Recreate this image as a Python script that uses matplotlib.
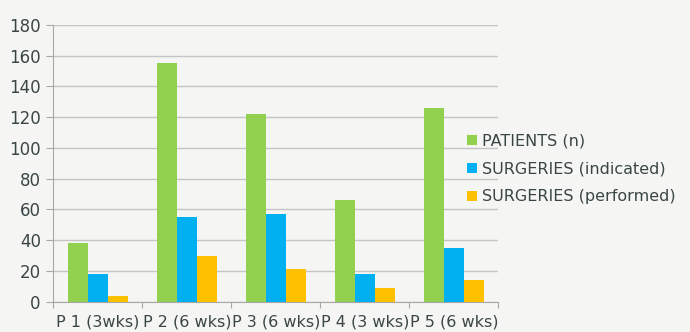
import numpy as np
import matplotlib.pyplot as plt

categories = ["P 1 (3wks)", "P 2 (6 wks)", "P 3 (6 wks)", "P 4 (3 wks)", "P 5 (6 wks)"]
patients = [38, 155, 122, 66, 126]
indicated = [18, 55, 57, 18, 35]
performed = [4, 30, 21, 9, 14]

series = [
    ("PATIENTS (n)", patients, "#92d050"),
    ("SURGERIES (indicated)", indicated, "#00b0f0"),
    ("SURGERIES (performed)", performed, "#ffc000"),
]

bg = "#f5f5f3"
text_col = "#3a4646"
plt.rcParams["font.family"] = ["DejaVu Sans"]

fig = plt.figure(figsize=(6.9, 3.32), dpi=100, facecolor=bg)
ax = fig.add_axes([0.0773, 0.0913, 0.6449, 0.8334], facecolor=bg)

x = np.arange(len(categories))
w = 0.225
for i, (name, vals, col) in enumerate(series):
    ax.bar(x + (i - 1) * w, vals, w, color=col, label=name, zorder=3)

ax.set_xlim(-0.5, len(categories) - 0.5)
ax.set_ylim(0, 180)
ax.set_yticks(range(0, 181, 20))
ax.yaxis.grid(True, color="#c4c4c4", linewidth=1, zorder=0)

# boundary ticks as major, labels on minor ticks at centers
ax.set_xticks(np.arange(-0.5, len(categories)), labels=[""] * (len(categories) + 1))
ax.set_xticks(x, labels=categories, minor=True)
ax.tick_params(axis="x", which="major", length=4, color="#a8a8a8")
ax.tick_params(axis="x", which="minor", length=0, labelsize=11.5, labelcolor=text_col, pad=9)
ax.tick_params(axis="y", length=5, color="#a8a8a8", labelsize=12, labelcolor=text_col, pad=4)

for s in ["top", "right"]:
    ax.spines[s].set_visible(False)
for s in ["left", "bottom"]:
    ax.spines[s].set_color("#a8a8a8")

fig.legend(loc="upper left", bbox_to_anchor=(0.668, 0.618), frameon=False,
           fontsize=11.5, labelcolor=text_col, handlelength=0.6, handleheight=0.6,
           handletextpad=0.35, labelspacing=0.82, borderaxespad=0)

plt.savefig("out.png", facecolor=bg)
